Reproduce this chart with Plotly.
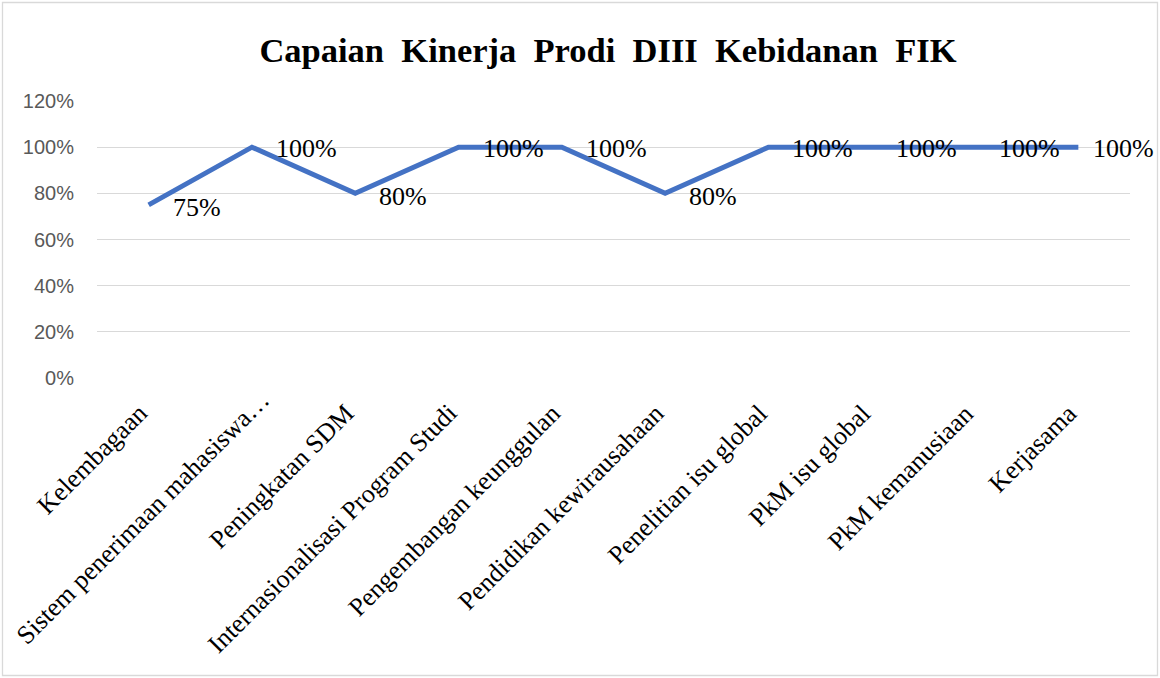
import plotly.graph_objects as go

categories = ["Kelembagaan", "Sistem penerimaan mahasiswa…", "Peningkatan SDM",
              "Internasionalisasi Program Studi", "Pengembangan keunggulan",
              "Pendidikan kewirausahaan", "Penelitian isu global", "PkM isu global",
              "PkM kemanusiaan", "Kerjasama"]
values = [0.75, 1.00, 0.80, 1.00, 1.00, 0.80, 1.00, 1.00, 1.00, 1.00]
value_labels = ["75%", "100%", "80%", "100%", "100%", "80%", "100%", "100%", "100%", "100%"]
y_ticks = [0, 0.2, 0.4, 0.6, 0.8, 1.0, 1.2]
y_tick_labels = ["0%", "20%", "40%", "60%", "80%", "100%", "120%"]

W, H = 1160, 678
L, R, T, B = 97, 30, 101, 300
SERIF = "Liberation Serif, Times New Roman, serif"

fig = go.Figure()
fig.add_trace(go.Scatter(
    x=categories, y=values, mode="lines",
    line=dict(color="#4472C4", width=5),
    hoverinfo="skip", showlegend=False,
))

n = len(categories)
for i, (c, v, t) in enumerate(zip(categories, values, value_labels)):
    fig.add_annotation(x=c, y=v, text=t, showarrow=False, xanchor="left",
                       yanchor="middle", xshift=13 if i == n - 1 else 22,
                       yshift=-3 if v < 0.9 else -1,
                       font=dict(family=SERIF, size=26, color="#000000"))

# rotated category labels
for c in categories:
    trunc = c.endswith("…")
    fig.add_annotation(x=c, y=0, xref="x", yref="paper", text=c, showarrow=False,
                       textangle=-45, xanchor="right", yanchor="top",
                       xshift=26 if trunc else 7, yshift=-4 if trunc else -18,
                       font=dict(family=SERIF, size=26, color="#000000"))

pw = W - L - R
ph = H - T - B
fig.add_shape(type="rect", xref="paper", yref="paper",
              x0=(2.5 - L) / pw, x1=(W - 2.5 - L) / pw,
              y0=-(H - 2.5 - T - ph) / ph,
              y1=(T - 2.5) / ph + 1,
              line=dict(color="#D9D9D9", width=1.3), layer="below")

fig.update_layout(
    width=W, height=H,
    margin=dict(l=L, r=R, t=T, b=B, autoexpand=False),
    paper_bgcolor="#FFFFFF", plot_bgcolor="#FFFFFF",
    title=dict(text="<b>Capaian  Kinerja  Prodi  DIII  Kebidanan  FIK</b>",
               x=608 / W, xref="container", xanchor="center",
               y=1 - 50 / H, yanchor="middle",
               font=dict(family=SERIF, size=34.5, color="#000000")),
    xaxis=dict(type="category", range=[-0.5, n - 0.5], automargin=False,
               showgrid=False, showline=False, zeroline=False, ticks="",
               showticklabels=False),
    yaxis=dict(range=[0, 1.2], tickvals=y_ticks, ticktext=y_tick_labels,
               automargin=False,
               showgrid=True, gridcolor="#D9D9D9", gridwidth=1.3,
               zeroline=False, showline=False, ticks="",
               ticklabelstandoff=22,
               tickfont=dict(family="Liberation Sans, Arial, sans-serif",
                             size=20, color="#595959")),
)

fig.write_html("out.html", config={"displayModeBar": False},
               post_script="document.body.style.margin='0';document.body.style.overflow='hidden';")
